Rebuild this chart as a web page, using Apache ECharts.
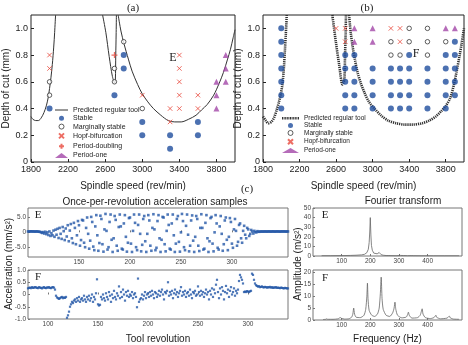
<!DOCTYPE html>
<html>
<head>
<meta charset="utf-8">
<script src="https://cdn.jsdelivr.net/npm/echarts@6/dist/echarts.min.js"></script>
<style>html,body{margin:0;padding:0;background:#fff}#main{width:468px;height:345px}</style>
</head>
<body>
<div id="main"></div>
<script>
// ---- data ----
var speedTicks = [1800, 2200, 2600, 3000, 3400, 3800];
var depthTicks = [0, 0.2, 0.4, 0.6, 0.8, 1.0];

// (a) measured points [spindle speed, depth of cut]
var aStable = [[2000,0.4],[2700,0.5],[2800,0.8],[2800,0.7],[3000,0.3],[3000,0.2],[3300,0.2],[3300,0.1],[3600,0.3],[3600,0.2]];
var aMarginal = [[2000,0.6],[2000,0.5],[2700,0.7],[2700,0.6],[2800,0.9],[3000,0.4]];
var aHopf = [[2000,0.8],[2000,0.7],[3000,0.5],[3300,0.4],[3300,0.3],[3400,0.8],[3400,0.7],[3400,0.6],[3400,0.5],[3400,0.4],[3600,0.5],[3600,0.4]];
var aDoubling = [[2700,0.8]];
var aPeriodOne = [[3800,0.6],[3800,0.5],[3800,0.4],[3900,0.8],[3900,0.7],[3900,0.6]];
// (a) predicted stability lobes
var aLobe1 = [[1800,0.34],[1820,0.32],[1850,0.31],[1880,0.31],[1910,0.33],[1940,0.37],[1965,0.42],[1985,0.48],[2000,0.55],[2015,0.63],[2030,0.73],[2045,0.86],[2055,0.97],[2065,1.1]];
var aLobe2 = [[2572,1.1],[2607,0.97],[2643,0.79],[2678,0.64],[2703,0.59],[2710,0.62],[2714,0.8],[2718,0.95],[2721,1.1]];
var aLobe3 = [[2740,1.1],[2770,0.98],[2805,0.88],[2850,0.77],[2890,0.68],[2950,0.58],[3000,0.51],[3060,0.45],[3120,0.4],[3200,0.35],[3280,0.31],[3350,0.3],[3420,0.3],[3500,0.32],[3580,0.35],[3640,0.39],[3700,0.43],[3770,0.5],[3830,0.59],[3875,0.67],[3920,0.77],[3950,0.84],[3980,0.93],[4000,0.99]];

// (b) measured points
var bStable = [[2000,1.0],[2000,0.9],[2000,0.8],[2000,0.7],[2000,0.6],[2000,0.5],[2000,0.4],
  [2700,0.8],[2700,0.7],[2700,0.6],[2700,0.5],[2700,0.4],
  [2800,0.8],[2800,0.7],[2800,0.6],[2800,0.5],[2800,0.4],
  [3000,0.7],[3000,0.6],[3000,0.5],[3000,0.4],
  [3200,0.7],[3200,0.6],[3200,0.5],[3200,0.4],
  [3300,0.7],[3300,0.6],[3300,0.5],[3300,0.4],
  [3400,0.8],[3400,0.7],[3400,0.6],[3400,0.5],[3400,0.4],
  [3600,0.7],[3600,0.6],[3600,0.5],[3600,0.4],
  [3800,0.8],[3800,0.7],[3800,0.6],[3800,0.5],[3800,0.4],
  [3900,0.9],[3900,0.8],[3900,0.7],[3900,0.6],[3900,0.5]];
var bMarginal = [[3200,0.9],[3200,0.8],[3300,0.8],[3400,1.0],[3400,0.9],[3600,1.0],[3600,0.9],[3600,0.8],[3800,0.9]];
var bHopf = [[2600,1.0],[2700,1.0],[2700,0.9],[3200,1.0],[3300,1.0],[3300,0.9]];
var bPeriodOne = [[2800,1.0],[2800,0.9],[3000,1.0],[3000,0.9],[3800,1.0],[3900,1.0]];
var bLobe1 = [[1800,0.34],[1830,0.31],[1860,0.29],[1890,0.3],[1920,0.33],[1950,0.39],[1975,0.45],[1995,0.51],[2010,0.57],[2020,0.63],[2030,0.72],[2040,0.84],[2050,0.96],[2060,1.1]];
var bLobe2 = [[2559,1.1],[2597,0.9],[2633,0.73],[2670,0.58],[2690,0.62],[2698,0.8],[2704,0.95],[2708,1.1]];
var bLobe3 = [[2742,1.1],[2760,0.97],[2780,0.87],[2805,0.77],[2835,0.67],[2870,0.59],[2910,0.52],[2960,0.45],[3020,0.4],[3090,0.35],[3170,0.31],[3260,0.29],[3350,0.28],[3440,0.28],[3540,0.29],[3620,0.31],[3690,0.34],[3750,0.38],[3800,0.42],[3850,0.48],[3890,0.58],[3920,0.68],[3950,0.79],[3975,0.89],[4000,1.0]];

// (c) once-per-revolution samples, E starts at revolution 100, F at 80
var eStart = 100;
var eAccel = [
  0.3,0.3,0.3,0.35,0.3,0.3,0.3,0.25,0.3,0.3,
  0.25,0.2,0.15,0.0,-0.2,0.1,-0.4,0.2,-0.6,0.0,
  -0.9,0.3,-1.2,-0.3,-1.0,0.6,-1.5,0.9,-0.8,1.2,
  -1.9,1.5,-0.5,-2.2,1.8,0.4,-2.6,1.3,-1.4,2.4,
  -3.0,0.6,2.8,-2.0,-3.6,3.2,1.5,-4.0,-1.0,3.8,
  2.4,-4.5,-2.6,4.2,4.0,-3.5,-5.0,1.5,5.0,-0.5,
  -5.5,-2.8,5.2,3.5,-4.8,-6.0,2.0,5.8,-1.0,-6.2,
  -3.6,5.6,4.5,-4.0,-6.5,1.0,6.2,0.5,-5.8,-5.0,
  3.5,6.0,-2.5,-6.6,-2.0,5.5,4.2,-4.5,-6.2,1.8,
  6.0,2.0,-5.5,-5.8,3.0,5.8,-1.5,-6.5,-3.5,4.8,
  5.0,-3.8,-6.6,0.5,6.0,3.2,-5.0,-6.0,2.5,6.0,
  -0.5,-6.4,-4.2,4.5,5.5,-3.0,-6.6,-0.5,5.8,4.0,
  -4.5,-6.2,1.5,6.1,1.0,-6.0,-5.2,3.8,5.8,-2.0,
  -6.6,-2.5,5.2,5.0,-4.0,-6.4,0.5,6.0,2.5,-5.5,
  -5.8,3.0,6.0,-1.0,-6.6,-3.8,4.5,5.5,-3.2,-6.5,
  0.0,6.2,3.8,-5.0,-6.0,2.2,6.0,-0.8,-6.4,-4.5,
  4.0,5.7,-2.8,-6.6,-1.5,5.5,4.5,-4.5,-6.3,1.5,
  6.1,1.5,-5.8,-5.5,3.2,5.8,-2.0,-6.6,-3.0,4.8,
  5.2,-3.8,-6.4,0.0,5.8,3.0,-5.2,-5.8,2.0,5.5,
  -0.5,-6.2,-4.0,4.0,5.0,-2.5,-6.0,-1.5,4.8,3.5,
  -3.8,-5.2,1.0,4.5,0.5,-4.5,-3.2,2.5,3.0,-2.0,
  -3.5,0.5,2.2,-0.8,-2.0,1.5,1.0,-1.2,-0.5,0.8,
  0.3,-0.4,0.5,0.1,0.0,0.4,0.2,0.2,0.3,0.25,
  0.3,0.25,0.3,0.3,0.25,0.3,0.3,0.3,0.25,0.3,
  0.3,0.3,0.25,0.3,0.3,0.3,0.3,0.25,0.3,0.3,0.3,0.3,0.3,0.25,0.3,0.3];
var fStart = 80;
var fAccel = [
  0.25,0.27,0.28,0.26,0.3,0.27,0.28,0.3,0.29,0.27,
  0.26,0.3,0.28,0.27,0.25,0.28,0.3,0.27,0.26,0.29,
  0.28,0.3,0.27,0.26,0.29,0.3,0.28,0.2,-0.05,-0.12,
  -0.15,-0.18,-0.15,-0.12,-0.1,-0.15,-0.12,-0.14,-0.1,-0.95,
  -0.85,-0.7,-0.5,-0.4,-0.3,-0.35,-0.25,-0.2,-0.3,-0.15,
  -0.25,-0.1,-0.3,-0.2,-0.15,-0.25,-0.05,-0.2,-0.3,-0.1,
  -0.2,-0.05,-0.25,-0.15,0.0,-0.3,-0.1,-0.2,0.05,0.62,
  -0.4,-0.45,-0.42,-0.1,-0.2,0.0,-0.15,-0.25,0.05,-0.1,
  -0.2,0.1,-0.05,-0.3,0.0,-0.15,0.15,-0.1,-0.2,0.05,
  -0.05,0.33,-0.15,0.1,-0.1,0.2,0.0,-0.25,0.1,-0.05,
  0.15,-0.1,0.0,-0.05,0.1,-0.15,0.0,0.05,-0.1,-0.52,
  0.65,-0.3,-0.2,-0.15,0.0,-0.2,-0.05,0.1,-0.15,0.0,
  0.05,-0.1,0.1,-0.05,0.15,0.0,-0.15,0.1,0.05,-0.1,
  0.0,0.15,-0.05,0.1,0.2,0.0,-0.2,0.1,0.05,0.15,
  0.5,-0.05,0.1,0.0,0.15,-0.15,0.05,0.2,0.0,0.1,
  -0.1,0.05,0.15,0.3,-0.05,0.1,0.0,0.15,-0.1,0.05,
  0.1,-0.05,0.2,0.0,-0.15,0.1,0.05,0.15,-0.05,0.0,
  0.33,0.1,-0.05,0.15,0.0,0.1,-0.1,0.05,0.2,0.0,
  0.1,-0.2,0.15,0.0,0.25,-0.1,0.2,0.05,0.4,0.6,
  0.1,-0.15,0.25,0.0,0.3,0.15,-0.2,0.1,0.35,0.05,
  0.2,-0.1,0.15,0.3,0.0,0.1,0.25,-0.05,0.15,0.05,
  0.2,0.55,0.8,0.7,0.6,0.45,0.1,0.12,0.1,0.14,
  0.12,0.1,0.13,0.15,0.85,0.8,0.6,0.45,0.38,0.35,
  0.32,0.34,0.3,0.31,0.33,0.3,0.29,0.31,0.3,0.28,
  0.3,0.29,0.31,0.28,0.3,0.27,0.29,0.28,0.3,0.27,
  0.28,0.27,0.26,0.28,0.27,0.26,0.25,0.27,0.26,0.25,0.25];

// Fourier transforms [Hz, amplitude]
var eSpectrum = [[30,0.3],[60,0.3],[100,0.4],[130,0.6],[150,0.8],[170,1.2],[180,1.8],[188,3.5],[193,7],[196,14],[198,25],[200,40],[202,22],[204,11],[207,6],[212,3],[218,2],[224,2.3],[228,3.2],[231,3.6],[234,2.6],[238,1.4],[245,0.8],[255,0.5],[265,0.5],[268,0.8],[272,0.4],[290,0.3],[305,0.6],[310,1.4],[315,0.5],[330,0.3],[345,0.4],[348,0.8],[352,0.3],[380,0.2],[420,0.2],[460,0.2],[510,0.2]];
var fSpectrum = [[35,0.2],[45,0.3],[48,0.5],[51,0.3],[70,0.3],[88,0.5],[93,0.9],[96,1.0],[99,0.7],[110,0.4],[125,0.5],[135,1.2],[139,2.5],[142,5.0],[145,2.5],[150,1.2],[165,1.0],[178,2.0],[184,4.5],[188,10],[190,15.5],[192,9],[196,4],[205,2],[215,1.5],[225,2.5],[231,5],[235,11],[238,18],[241,9],[245,4.5],[255,2],[268,1.5],[278,3],[283,5],[286,7.5],[289,4.5],[295,2],[310,0.9],[325,1.2],[330,2.2],[333,3.3],[336,2],[345,0.8],[365,1],[374,2],[378,3.5],[381,4.7],[384,2.5],[392,1],[410,0.6],[422,1],[426,1.6],[429,2],[432,1.1],[445,0.5],[468,0.8],[473,1.4],[476,1.6],[479,0.9],[490,0.4],[510,0.3]];

// ---- chart ----
var sans = '"Liberation Sans", Arial, sans-serif';
var serif = '"Liberation Serif", "Times New Roman", serif';
var blue = '#1f4e9e', red = '#e8483c', purple = '#a247a8';
var crossPath = 'path://M0 0L10 10M10 0L0 10';
var plusPath = 'path://M5 0L5 10M0 5L10 5';
// legend swatches: a thin solid bar and a thick dashed bar
var solidBar = 'path://M0 0L26 0L26 2L0 2Z';
var dashBar = (function () {
  var p = 'path://';
  for (var x = 0; x < 34; x += 3.2) {
    var r = Math.min(x + 2, 34);
    p += 'M' + x + ' 0L' + r + ' 0L' + r + ' 5L' + x + ' 5Z';
  }
  return p;
})();

function toPairs(start, arr) {
  return arr.map(function (v, i) { return [start + i, v]; });
}
function oneDec(v) { return v === 0 ? '0' : v.toFixed(1); }
function plain(v) { return String(v); }

function speedAxis(gi) {
  return {gridIndex: gi, type: 'value', min: 1800, max: 4000,
    name: 'Spindle speed (rev/min)', nameLocation: 'middle', nameGap: 19,
    nameTextStyle: {fontFamily: sans, fontSize: 10, color: '#222'},
    axisLine: {show: false},
    axisTick: {inside: true, length: 3, customValues: speedTicks, lineStyle: {color: '#222'}},
    axisLabel: {fontFamily: sans, fontSize: 9, color: '#222', margin: 3, customValues: speedTicks, formatter: plain},
    splitLine: {show: false}};
}
function depthAxis(gi) {
  return {gridIndex: gi, type: 'value', min: 0, max: 1.1,
    name: 'Depth of cut (mm)', nameLocation: 'middle', nameGap: 20,
    nameTextStyle: {fontFamily: sans, fontSize: 10, color: '#222'},
    axisLine: {show: false},
    axisTick: {inside: true, length: 3, customValues: depthTicks, lineStyle: {color: '#222'}},
    axisLabel: {fontFamily: sans, fontSize: 9, color: '#222', margin: 3, customValues: depthTicks, formatter: oneDec},
    splitLine: {show: false}};
}
function smallAxis(gi, min, max, ticks, fmt) {
  return {gridIndex: gi, type: 'value', min: min, max: max,
    axisLine: {show: false},
    axisTick: {inside: true, length: 2, customValues: ticks, lineStyle: {color: '#777'}},
    axisLabel: {fontFamily: sans, fontSize: 6.5, color: '#444', margin: 2, customValues: ticks, formatter: fmt || plain},
    splitLine: {show: false}};
}
function lobes(name, list, ls) {
  return list.map(function (d) {
    return {name: name, type: 'line', xAxisIndex: ls.gi, yAxisIndex: ls.gi, data: d,
      smooth: 0.3, showSymbol: false, symbol: 'none', z: 1,
      itemStyle: {color: ls.color},
      lineStyle: {color: ls.color, width: ls.width, type: ls.type}};
  });
}
function pts(name, gi, data, symbol, size, style) {
  return {name: name, type: 'scatter', xAxisIndex: gi, yAxisIndex: gi, data: data,
    symbol: symbol, symbolSize: size, itemStyle: style, z: 3};
}

var gridBox = {show: true, borderColor: '#222', borderWidth: 1};
var gridGray = {show: true, borderColor: '#777', borderWidth: 1};
function g(l, t, w, h, box) {
  return Object.assign({left: l, top: t, width: w, height: h, containLabel: false}, box);
}

var openStyle = {color: '#fff', borderColor: '#222', borderWidth: 0.9};
var crossStyle = {color: 'none', borderColor: red, borderWidth: 1};

var series = [].concat(
  lobes('Predicted regular tool', [aLobe1, aLobe2, aLobe3], {gi: 0, color: '#333', width: 1, type: 'solid'}),
  [pts('Stable', 0, aStable, 'circle', 6, {color: blue}),
   pts('Marginally stable', 0, aMarginal, 'circle', 4.5, openStyle),
   pts('Hopf-bifurcation', 0, aHopf, crossPath, 4.5, crossStyle),
   pts('Period-doubling', 0, aDoubling, plusPath, 6, {color: 'none', borderColor: red, borderWidth: 1.2}),
   pts('Period-one', 0, aPeriodOne, 'triangle', 6, {color: purple})],
  lobes('b:Predicted regular tool', [bLobe1, bLobe2, bLobe3], {gi: 1, color: '#333', width: 2.6, type: [1.2, 0.9]}),
  [pts('b:Stable', 1, bStable, 'circle', 6, {color: blue}),
   pts('b:Marginally stable', 1, bMarginal, 'circle', 4.5, openStyle),
   pts('b:Hopf-bifurcation', 1, bHopf, crossPath, 4.5, crossStyle),
   pts('b:Period-one', 1, bPeriodOne, 'triangle', 6, {color: purple})],
  [pts('E samples', 2, toPairs(eStart, eAccel), 'rect', 2.6, {color: '#2457a8'}),
   pts('F samples', 3, toPairs(fStart, fAccel), 'rect', 2.2, {color: '#2457a8'}),
   {type: 'line', xAxisIndex: 4, yAxisIndex: 4, data: eSpectrum, showSymbol: false, symbol: 'none',
    lineStyle: {color: '#666', width: 0.8}},
   {type: 'line', xAxisIndex: 5, yAxisIndex: 5, data: fSpectrum, showSymbol: false, symbol: 'none', smooth: 0.2,
    lineStyle: {color: '#666', width: 0.8}}]
);

function txt(x, y, text, size, font, rot, color) {
  return {type: 'text', x: x, y: y, rotation: rot || 0,
    style: {text: text, fontSize: size, fontFamily: font, fill: color || '#222',
      textAlign: 'center', textVerticalAlign: 'middle'}};
}
var openLegend = {color: '#fff', borderColor: '#222', borderWidth: 0.9};

var option = {
  animation: false,
  backgroundColor: '#fff',
  grid: [g(27, 15, 208, 147, gridBox), g(263, 15, 201, 147, gridBox),
         g(28, 208, 260, 49, gridGray), g(28, 270, 260, 49, gridGray),
         g(313, 208, 149, 48, gridGray), g(313, 270, 149, 50, gridGray)],
  xAxis: [speedAxis(0), speedAxis(1),
    smallAxis(2, 100, 355, [150, 200, 250, 300]),
    Object.assign(smallAxis(3, 80, 340, [100, 150, 200, 250, 300]),
      {name: 'Tool revolution', nameLocation: 'middle', nameGap: 15,
       nameTextStyle: {fontFamily: sans, fontSize: 10, color: '#222'}}),
    smallAxis(4, 0, 520, [100, 200, 300, 400]),
    Object.assign(smallAxis(5, 0, 520, [100, 200, 300, 400]),
      {name: 'Frequency (Hz)', nameLocation: 'middle', nameGap: 14,
       nameTextStyle: {fontFamily: sans, fontSize: 10, color: '#222'}})],
  yAxis: [depthAxis(0), depthAxis(1),
    smallAxis(2, -8.3, 8.2, [-5, 0, 5], oneDec),
    smallAxis(3, -1, 1, [-1, -0.5, 0, 0.5, 1], oneDec),
    smallAxis(4, 0, 50, [0, 10, 20, 30, 40, 50]),
    smallAxis(5, 0, 21, [0, 5, 10, 15, 20])],
  legend: [
    {data: [{name: 'Predicted regular tool', icon: solidBar, itemStyle: {color: '#333', borderWidth: 0}},
            'Stable', {name: 'Marginally stable', itemStyle: openLegend}, 'Hopf-bifurcation', 'Period-doubling', 'Period-one'],
     orient: 'vertical', left: 55, top: 106, itemWidth: 13, itemHeight: 5, itemGap: 0.3, padding: 0,
     textStyle: {fontFamily: sans, fontSize: 7, color: '#222', lineHeight: 8}},
    {data: [{name: 'b:Predicted regular tool', icon: dashBar, itemStyle: {color: '#333', borderWidth: 0}},
            'b:Stable', {name: 'b:Marginally stable', itemStyle: openLegend}, 'b:Hopf-bifurcation', 'b:Period-one'],
     orient: 'vertical', left: 282, top: 114.5, itemWidth: 17, itemHeight: 5, itemGap: 0.1, padding: 0,
     formatter: function (n) { return n.replace('b:', ''); },
     textStyle: {fontFamily: sans, fontSize: 6.5, color: '#222', lineHeight: 7.3}}
  ],
  graphic: [
    txt(133, 8, '(a)', 11, serif), txt(367, 8, '(b)', 11, serif), txt(247, 189, '(c)', 11, serif),
    txt(173, 58, 'E', 12, serif), txt(416, 54, 'F', 12, serif),
    txt(38, 215, 'E', 11, serif), txt(38, 277, 'F', 11, serif),
    txt(325, 215, 'E', 11, serif), txt(325, 278, 'F', 11, serif),
    txt(155, 202, 'Once-per-revolution acceleration samples', 10, sans),
    txt(403, 201, 'Fourier transform', 10, sans),
    txt(9, 264, 'Acceleration (mm/s\u00b2)', 10, sans, Math.PI / 2),
    txt(298, 264, 'Amplitude (m/s\u00b2)', 10, sans, Math.PI / 2)
  ],
  series: series
};

var chart = echarts.init(document.getElementById('main'), null, {renderer: 'canvas'});
chart.setOption(option);
</script>
</body>
</html>
